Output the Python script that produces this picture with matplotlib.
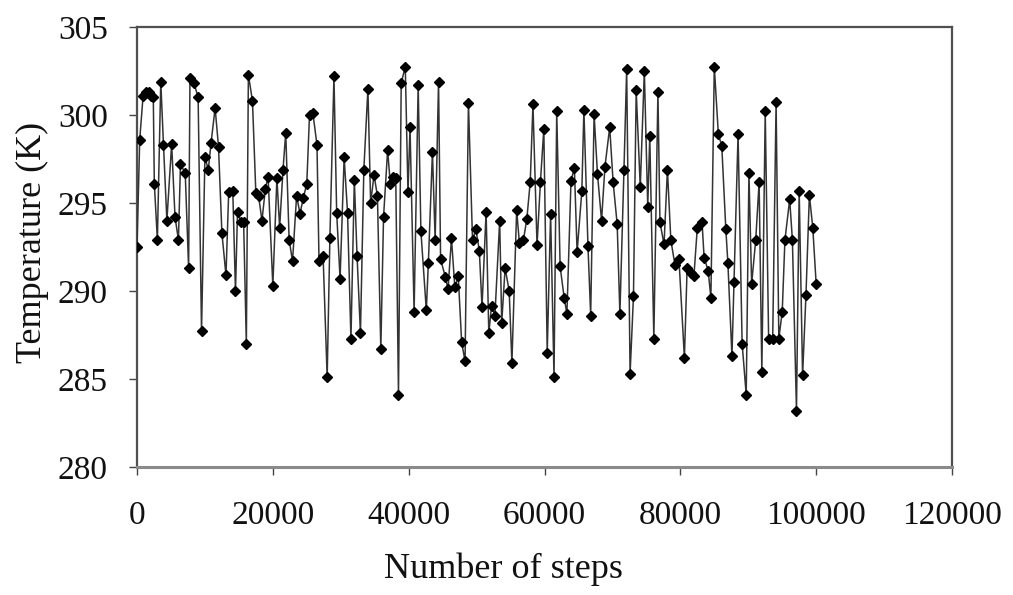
import matplotlib
matplotlib.use("Agg")
import matplotlib.pyplot as plt

steps = [0, 400, 900, 1300, 1700, 2100, 2400, 2550, 3000, 3500,
         3900, 4400, 5100, 5600, 6100, 6400, 7100, 7600, 7800, 8400,
         9000, 9500, 10000, 10500, 10900, 11500, 12000, 12500, 13100, 13500,
         14100, 14500, 14800, 15300, 15700, 16100, 16400, 17000, 17500, 17900,
         18400, 18900, 19300, 20000, 20600, 21000, 21500, 21900, 22400, 22900,
         23500, 24000, 24500, 25000, 25400, 25900, 26500, 26800, 27400, 28000,
         28400, 29000, 29400, 29900, 30500, 31000, 31500, 32000, 32400, 32900,
         33400, 34000, 34400, 34900, 35400, 35900, 36300, 36900, 37300, 37700,
         38100, 38500, 38900, 39500, 39900, 40200, 40800, 41400, 41800, 42600,
         42900, 43500, 43900, 44400, 44700, 45400, 45800, 46300, 46800, 47300,
         47800, 48300, 48800, 49400, 49900, 50400, 50800, 51400, 51800, 52200,
         52700, 53400, 53700, 54200, 54800, 55200, 55900, 56300, 56900, 57400,
         57900, 58300, 58900, 59400, 59900, 60400, 60900, 61400, 61800, 62300,
         62900, 63300, 63900, 64400, 64800, 65500, 65800, 66400, 66800, 67300,
         67800, 68400, 68900, 69600, 70100, 70700, 71100, 71700, 72100, 72600,
         73100, 73500, 74100, 74700, 75200, 75500, 76100, 76700, 77000, 77600,
         78100, 78600, 79200, 79800, 80600, 81000, 81500, 82000, 82500, 83200,
         83500, 84100, 84500, 85000, 85600, 86100, 86700, 87000, 87600, 87900,
         88500, 89100, 89700, 90100, 90500, 91100, 91600, 92000, 92500, 93000,
         93600, 94100, 94500, 95000, 95400, 96100, 96500, 97100, 97500, 98000,
         98500, 99000, 99500, 100000]

temperature = [292.5, 298.6, 301.1, 301.3, 301.3, 301.1, 301.0, 296.1, 292.9, 301.9,
               298.3, 294.0, 298.35, 294.2, 292.9, 297.2, 296.7, 291.3, 302.1, 301.8,
               301.0, 287.7, 297.6, 296.9, 298.4, 300.4, 298.2, 293.3, 290.9, 295.6,
               295.7, 290.0, 294.5, 293.9, 293.9, 287.0, 302.3, 300.8, 295.55, 295.4,
               294.0, 295.8, 296.5, 290.3, 296.4, 293.6, 296.9, 299.0, 292.9, 291.7,
               295.4, 294.4, 295.3, 296.1, 300.0, 300.1, 298.3, 291.7, 292.0, 285.1,
               293.0, 302.2, 294.45, 290.7, 297.6, 294.45, 287.25, 296.3, 292.0, 287.6,
               296.9, 301.5, 295.0, 296.6, 295.4, 286.7, 294.2, 298.0, 296.1, 296.5,
               296.4, 284.1, 301.8, 302.75, 295.6, 299.3, 288.8, 301.7, 293.4, 288.9,
               291.6, 297.9, 292.9, 301.9, 291.8, 290.8, 290.1, 293.0, 290.2, 290.85,
               287.1, 286.0, 300.7, 292.9, 293.5, 292.3, 289.1, 294.5, 287.6, 289.15,
               288.6, 294.0, 288.2, 291.3, 290.0, 285.9, 294.6, 292.75, 292.9, 294.1,
               296.2, 300.6, 292.6, 296.2, 299.2, 286.5, 294.4, 285.1, 300.2, 291.4,
               289.6, 288.7, 296.25, 297.0, 292.2, 295.7, 300.3, 292.55, 288.6, 300.05,
               296.65, 294.0, 297.06, 299.3, 296.2, 293.8, 288.7, 296.9, 302.6, 285.3,
               289.7, 301.4, 295.9, 302.5, 294.8, 298.8, 287.3, 301.3, 293.9, 292.65,
               296.9, 292.9, 291.5, 291.8, 286.2, 291.3, 291.0, 290.85, 293.6, 293.9,
               291.9, 291.15, 289.6, 302.75, 298.9, 298.25, 293.5, 291.6, 286.3, 290.5,
               298.9, 287.0, 284.1, 296.7, 290.4, 292.9, 296.2, 285.4, 300.2, 287.3,
               287.3, 300.75, 287.3, 288.8, 292.9, 295.2, 292.9, 283.2, 295.7, 285.2,
               289.8, 295.45, 293.6, 290.4]

x_ticks = [0, 20000, 40000, 60000, 80000, 100000, 120000]
y_ticks = [280, 285, 290, 295, 300, 305]

plt.rcParams['font.family'] = ['Liberation Serif', 'DejaVu Serif']

fig = plt.figure(figsize=(10.13, 5.95), dpi=100)
ax = fig.add_axes([137 / 1013, 1 - 467 / 595, 815 / 1013, 440 / 595])

ax.plot(steps, temperature, color='#333333', linewidth=1.1,
        marker='D', markersize=5, markerfacecolor='black',
        markeredgecolor='black', zorder=3)

ax.set_xlim(0, 120000)
ax.set_ylim(280, 305)
ax.set_xticks(x_ticks)
ax.set_yticks(y_ticks)
ax.set_xticklabels([str(v) for v in x_ticks])
ax.set_yticklabels([str(v) for v in y_ticks])

for name, sp in ax.spines.items():
    sp.set_color('#505050')
    sp.set_linewidth(1.6)
ax.spines['bottom'].set_color('#8a8a8a')
ax.spines['bottom'].set_linewidth(2.2)

ax.tick_params(axis='x', direction='out', length=6, width=1.0, color='#444444',
               labelsize=24, pad=18, labelcolor='#111111')
ax.tick_params(axis='y', direction='out', length=6, width=1.0, color='#444444',
               labelsize=24, pad=15, labelcolor='#111111')

ax.set_xlabel('Number of steps', fontsize=26, color='#111111')
ax.xaxis.set_label_coords((503 - 137) / 815, -0.195)
ax.set_ylabel('Temperature (K)', fontsize=26, color='#111111')
ax.yaxis.set_label_coords(-0.108, 0.511)

fig.savefig('out.png', dpi=100, facecolor='white')
